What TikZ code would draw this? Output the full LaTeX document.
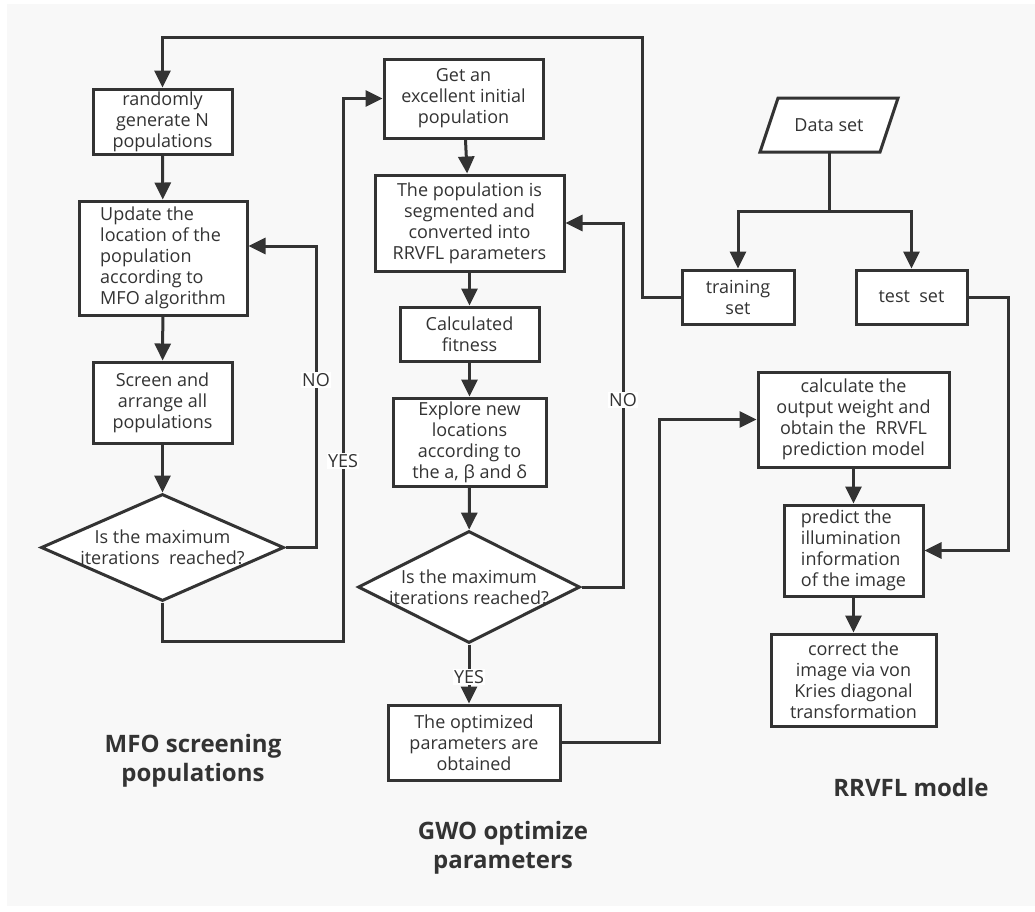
\documentclass[tikz,border=0pt]{standalone}
\usepackage{fontspec}
\setmainfont{Open Sans}
\usepackage{tikz}
\usetikzlibrary{arrows.meta,shapes.geometric}
\definecolor{Ink}{HTML}{333333}
\definecolor{Paper}{HTML}{F8F8F8}
\newcommand{\boxfont}{\fontsize{18}{21}\selectfont}
\newcommand{\headfont}{\fontsize{24}{29}\selectfont\bfseries}

\begin{document}
\begin{tikzpicture}[x=1pt,y=-1pt,>={Triangle[length=17pt,width=16pt]},
    every node/.style={text=Ink},
    box/.style={draw=Ink,fill=white,line width=3pt,inner sep=0pt,
                align=center,font=\boxfont},
    choice/.style={draw=Ink,fill=white,line width=3pt,diamond,inner sep=0pt,aspect=2.2},
    flow/.style={draw=Ink,line width=3pt,->},
    wire/.style={draw=Ink,line width=3pt},
    tag/.style={fill=white,inner sep=1pt,font=\boxfont},
    head/.style={align=center,font=\headfont}]
  \useasboundingbox (0,0) rectangle (1035,911);
  \fill[Paper] (7,4) rectangle (1035,906);

  % MFO screening populations
  \node[box,minimum width=139pt,minimum height=65pt] (gen) at (162.5,121.5)
    {randomly\\generate N\\populations};
  \node[box,align=left,minimum width=168pt,minimum height=114pt] (upd) at (163,258)
    {Update the\\location of the\\population\\according to\\MFO algorithm};
  \node[box,minimum width=139pt,minimum height=81pt] (scr) at (162.5,402.5)
    {Screen and\\arrange all\\populations};
  \node[choice,minimum width=243pt,minimum height=107pt] (mfoq) at (162.5,547.5) {};
  \node[align=center,font=\boxfont] (mfoqt) at (mfoq) {Is the maximum\\iterations\ \ reached?};

  % GWO optimize parameters
  \node[box,minimum width=159pt,minimum height=79pt] (init) at (463.5,98.5)
    {Get an\\excellent initial\\population};
  \node[box,minimum width=189pt,minimum height=96pt] (seg) at (469.5,223)
    {The population is\\segmented and\\converted into\\RRVFL parameters};
  \node[box,minimum width=139pt,minimum height=54pt] (fit) at (469.5,334)
    {Calculated\\fitness};
  \node[box,minimum width=153pt,minimum height=88pt] (expl) at (469.5,442)
    {Explore new\\locations\\according to\\the a, β and δ};
  \node[choice,minimum width=222pt,minimum height=112pt] (gwoq) at (469,587) {};
  \node[align=center,font=\boxfont] (gwoqt) at (gwoq) {Is the maximum\\iterations reached?};
  \node[box,minimum width=172pt,minimum height=75pt] (opt) at (474,742.5)
    {The optimized\\parameters are\\obtained};

  % RRVFL modle
  \filldraw[fill=white,draw=Ink,line width=3pt,line join=miter]
    (778,98) -- (898,98) -- (880,152) -- (760,152) -- cycle;
  \node[font=\boxfont,inner sep=0pt,minimum height=54pt] (data) at (829,125) {Data set};
  \node[box,minimum width=112pt,minimum height=54pt] (train) at (738,297) {training\\set};
  \node[box,minimum width=111pt,minimum height=54pt] (test) at (911.5,297) {test\ \ set};
  \node[box,minimum width=191pt,minimum height=95pt] (calc) at (853.5,419.5)
    {calculate the\\output weight and\\obtain the\ \ RRVFL\\prediction model};
  \node[box,align=left,minimum width=139pt,minimum height=91pt] (pred) at (853.5,550.5)
    {predict the\\illumination\\information\\of the image};
  \node[box,minimum width=165pt,minimum height=92pt] (corr) at (853.5,680)
    {correct the\\image via von\\Kries diagonal\\transformation};

  \node[head] (mfohead) at (193,761) {MFO screening\\populations};
  \node[head] (gwohead) at (503,848) {GWO optimize\\parameters};
  \node[head] (rvflhead) at (911,787) {RRVFL modle};

  \coordinate (topR) at (642,37);
  \coordinate (noA) at (316,246);
  \coordinate (yesA) at (343,641);
  \coordinate (noB) at (623,223);
  \coordinate (outB) at (659,419.5);
  \coordinate (split) at (829,211);
  \coordinate (testR) at (1008,550.5);

  \draw[flow] (train.west) -| (topR) -| (gen.north);
  \draw[flow] (gen) -- (upd);
  \draw[flow] (upd) -- (scr);
  \draw[flow] (scr) -- (mfoq);
  \draw[flow] (mfoq.east) -| (noA) -- (upd.east |- noA);
  \node[tag] (noAt) at (316,380) {NO};
  \draw[flow] (mfoq.south) |- (yesA) |- (init.west);
  \node[tag] (yesAt) at (343,461) {YES};

  \draw[flow] (init) -- (seg);
  \draw[flow] (seg) -- (fit);
  \draw[flow] (fit) -- (expl);
  \draw[flow] (expl) -- (gwoq);
  \draw[flow] (gwoq.east) -| (noB) -- (seg.east);
  \node[tag] (noBt) at (623,400) {NO};
  \draw[flow] (gwoq.south) -- (gwoq.south |- opt.north);
  \node[tag] (yesBt) at (469,677) {YES};
  \draw[flow] (opt.east) -| (outB) -- (calc.west);

  \draw[wire] (data.south) -- (split);
  \draw[flow] (split) -| (train.north);
  \draw[flow] (split) -| (test.north);
  \draw[flow] (test.east) -| (testR) -- (pred.east);
  \draw[flow] (calc) -- (pred);
  \draw[flow] (pred) -- (corr);
\end{tikzpicture}
\end{document}
